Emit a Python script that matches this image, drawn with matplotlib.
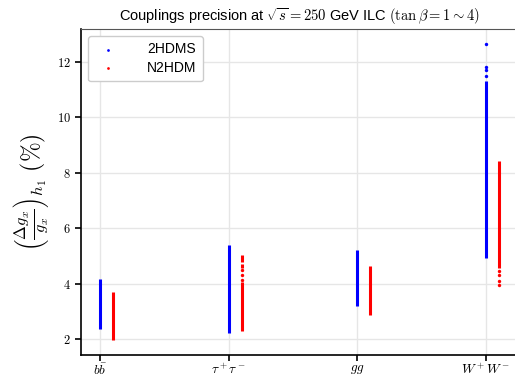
import numpy as np
import matplotlib.pyplot as plt

plt.rcParams['font.family'] = ['Liberation Sans', 'DejaVu Sans']
plt.rcParams['mathtext.fontset'] = 'cm'

channels = [r'$b\bar{b}$', r'$\tau^+\tau^-$', r'$gg$', r'$W^+W^-$']

# dense scan ranges of the coupling precision (%) per channel: (low, high)
hdms_ranges = [(2.35, 4.15), (2.2, 5.4), (3.2, 5.2), (4.92, 11.3)]
n2hdm_ranges = [(1.95, 3.7), (2.3, 4.05), (2.85, 4.65), (4.55, 8.44)]

# isolated scan points outside the dense bands
hdms_extra_x = [3, 3, 3, 3]
hdms_extra_y = [11.5, 11.7, 11.83, 12.65]
n2hdm_extra_x = [1, 1, 1, 3, 3, 3, 3]
n2hdm_extra_y = [4.12, 4.3, 4.5, 3.95, 4.1, 4.3, 4.45]
n2hdm_sub = [(1, 4.55, 4.7), (1, 4.78, 5.03)]

offset = 0.1


def main():
    fig = plt.figure(figsize=(5.15, 3.74), dpi=100)
    ax = fig.add_axes([81/515, 19/374, 460/515, 326/374])

    x = np.arange(len(channels))
    ax.vlines(x, [r[0] for r in hdms_ranges], [r[1] for r in hdms_ranges],
              color='b', lw=2.2, zorder=3)
    ax.vlines(x + offset, [r[0] for r in n2hdm_ranges], [r[1] for r in n2hdm_ranges],
              color='r', lw=2.2, zorder=3)
    for xi, lo, hi in n2hdm_sub:
        ax.vlines(xi + offset, lo, hi, color='r', lw=2.2, zorder=3)

    ax.scatter(hdms_extra_x, hdms_extra_y, s=6, color='b', linewidths=0,
               zorder=3, label='2HDMS')
    ax.scatter(np.array(n2hdm_extra_x) + offset, n2hdm_extra_y, s=6, color='r',
               linewidths=0, zorder=3, label='N2HDM')

    ax.set_xticks(x)
    ax.set_xticklabels(channels, fontsize=9.5)
    ax.set_yticks(range(2, 13, 2))
    ax.set_yticklabels([rf'${v}$' for v in range(2, 13, 2)], fontsize=9)
    ax.set_xlim(-0.15, 3.43)
    ax.set_ylim(1.42, 13.19)
    ax.grid(True, color='#e6e6e6', lw=1)
    ax.set_axisbelow(True)
    for s in ['left', 'bottom']:
        ax.spines[s].set_linewidth(1.2)
    ax.spines['top'].set_color('#555555')
    ax.tick_params(length=4, width=1.2)
    ax.tick_params(axis='x', pad=1.5)

    ax.set_ylabel(r'$\left(\frac{\Delta g_x}{g_x}\right)_{h_1}$ $(\%)$', fontsize=17)
    ax.set_title(r'Couplings precision at $\sqrt{s}=250$ GeV ILC $(\tan\beta=1\sim4)$',
                 fontsize=10.5, x=0.475)
    ax.legend(loc='upper left', fontsize=10, markerscale=0.8, handletextpad=1.8,
              borderpad=0.45, labelspacing=0.35, framealpha=1, edgecolor='#cccccc')

    fig.savefig('out.png', dpi=100)


if __name__ == '__main__':
    main()
